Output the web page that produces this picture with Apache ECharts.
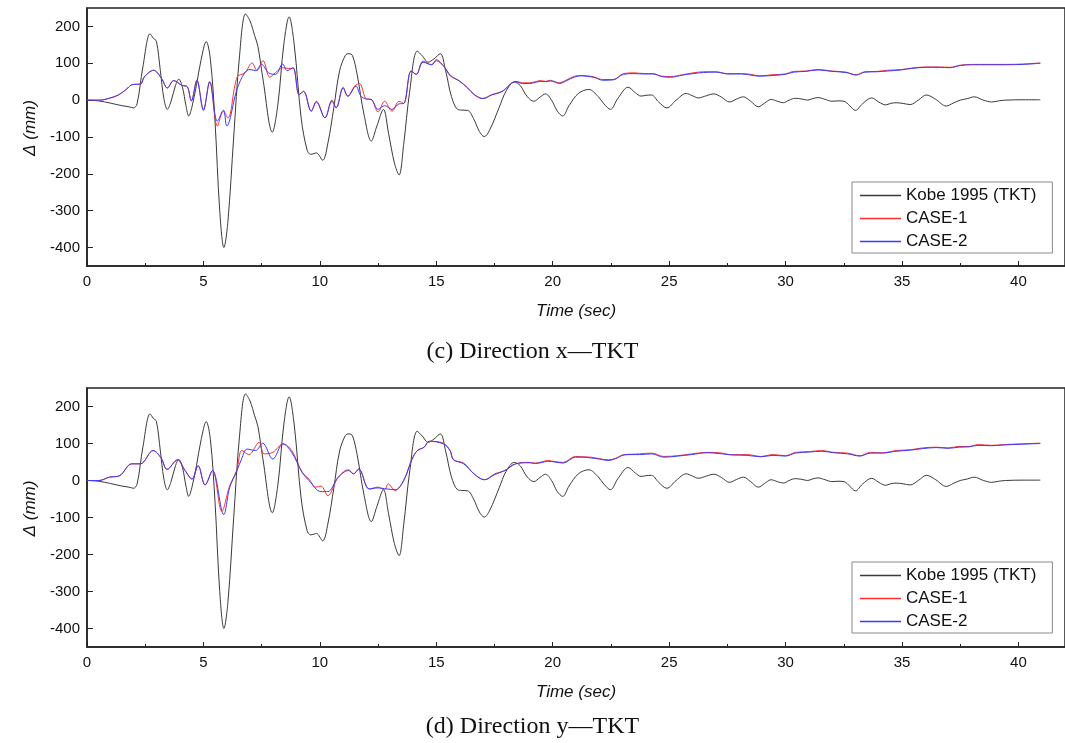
<!DOCTYPE html>
<html>
<head>
<meta charset="utf-8">
<style>
html,body{margin:0;padding:0;background:#fff;}
#c{width:1065px;height:743px;}
</style>
<script src="https://cdn.jsdelivr.net/npm/echarts@6/dist/echarts.min.js"></script>
</head>
<body>
<div id="c"></div>
<script>
// ---- data (time in s, displacement in mm) ----
const xTickLabels = [0, 5, 10, 15, 20, 25, 30, 35, 40];
const xMinorTicks = [2.5, 7.5, 12.5, 17.5, 22.5, 27.5, 32.5, 37.5];
const yTickLabels = [-400, -300, -200, -100, 0, 100, 200];
const seriesNames = ['Kobe 1995 (TKT)', 'CASE-1', 'CASE-2'];
const captions = ['(c) Direction x\u2014TKT', '(d) Direction y\u2014TKT'];

const kobe = [[0,0],[0.5,-2],[1.0,-8],[1.5,-15],[1.8,-18],[2.0,-21],[2.15,-10],[2.4,90],[2.71,180],[2.85,168],[2.98,160],[3.15,80],[3.3,5],[3.45,-25],[3.6,-5],[3.8,40],[3.94,57],[4.1,35],[4.25,-15],[4.37,-43],[4.5,-20],[4.7,40],[4.9,110],[5.12,159],[5.3,110],[5.5,-60],[5.7,-300],[5.88,-400],[6.05,-330],[6.3,-100],[6.55,120],[6.81,234],[7.0,215],[7.2,175],[7.34,146],[7.55,60],[7.96,-87],[8.2,-10],[8.45,150],[8.68,226],[8.9,150],[9.2,-50],[9.45,-135],[9.6,-147],[9.75,-145],[9.85,-143],[10.12,-163],[10.35,-115],[10.6,-20],[10.85,80],[11.1,122],[11.25,126],[11.4,121],[11.6,70],[11.9,-40],[12.21,-111],[12.45,-70],[12.73,-25],[12.95,-90],[13.2,-170],[13.4,-203],[13.6,-120],[13.85,20],[14.18,133],[14.4,120],[14.65,103],[14.9,112],[15.17,126],[15.4,80],[15.65,10],[15.91,-25],[16.1,-27],[16.35,-28],[16.6,-50],[16.85,-85],[17.06,-99],[17.3,-80],[17.7,-20],[18.0,25],[18.35,49],[18.6,40],[18.9,10],[19.19,-3],[19.45,8],[19.69,17],[19.95,0],[20.2,-30],[20.43,-43],[20.7,-15],[21.1,18],[21.55,29],[21.95,10],[22.2,-10],[22.48,-25],[22.8,5],[23.24,35],[23.55,20],[23.79,11],[24.0,13],[24.24,14],[24.55,-5],[24.9,-21],[25.3,0],[25.73,18],[26.0,12],[26.25,6],[26.6,12],[26.92,17],[27.25,8],[27.59,-5],[27.9,3],[28.19,9],[28.5,-3],[28.83,-18],[29.1,-8],[29.38,2],[29.65,-3],[29.9,-7],[30.15,0],[30.42,5],[30.7,3],[30.95,0],[31.15,4],[31.39,7],[31.7,2],[31.99,-3],[32.25,-2],[32.51,-3],[32.75,-15],[33.0,-28],[33.3,-10],[33.7,6],[34.0,-5],[34.3,-13],[34.5,-9],[34.75,-7],[35.05,-9],[35.35,-12],[35.7,0],[36.05,14],[36.45,2],[36.9,-16],[37.2,-8],[37.5,0],[37.8,4],[38.1,9],[38.5,0],[38.85,-5],[39.15,-2],[39.45,0],[40.2,1],[40.94,1]];

const case1X = [[0,0],[0.54,0],[1.0,6],[1.35,14],[1.7,30],[1.94,42],[2.31,44],[2.46,63],[2.86,81],[3.2,59],[3.45,33],[3.72,53],[4.08,40],[4.31,36],[4.48,-2],[4.72,54],[5.0,-25],[5.27,50],[5.6,-70],[5.86,-30],[6.05,-48],[6.45,63],[6.78,74],[7.09,101],[7.3,80],[7.56,107],[7.85,62],[8.1,75],[8.4,88],[8.67,86],[8.85,87],[9.11,15],[9.3,24],[9.63,-30],[9.85,-3],[10.22,-48],[10.52,0],[10.7,-21],[11.0,35],[11.2,12],[11.5,38],[11.7,45],[12.0,3],[12.2,2],[12.5,-32],[12.78,-3],[13.1,-30],[13.4,-3],[13.6,-9],[13.92,79],[14.14,70],[14.43,106],[14.8,96],[15.0,110],[15.32,92],[15.61,65],[15.98,53],[16.35,33],[16.64,15],[17.0,5],[17.38,15],[17.82,24],[18.42,51],[18.7,47],[19.0,47],[19.25,50],[19.46,53],[19.7,51],[19.9,54],[20.1,50],[20.28,47],[20.6,55],[20.95,65],[21.25,67],[21.5,66],[21.77,63],[22.15,56],[22.6,56],[23.04,72],[23.49,74],[23.94,72],[24.3,72],[24.68,65],[25.06,64],[25.58,69],[26.03,74],[26.47,77],[27.0,77],[27.52,72],[28.11,72],[28.5,70],[28.86,66],[29.46,69],[29.98,71],[30.35,78],[30.87,79],[31.39,83],[31.99,79],[32.59,76],[33.03,69],[33.41,77],[33.93,78],[34.38,81],[34.97,83],[35.42,87],[36.02,90],[36.61,90],[37.06,89],[37.51,95],[38.03,97],[38.7,97],[39.45,97],[40.2,98],[40.94,101]];

const case2X = [[0,0],[0.54,0],[1.0,6],[1.35,14],[1.7,30],[1.94,42],[2.31,44],[2.46,63],[2.86,81],[3.2,59],[3.45,33],[3.72,53],[4.08,40],[4.31,36],[4.48,-2],[4.72,54],[5.0,-28],[5.27,50],[5.6,-57],[5.86,-27],[6.0,-70],[6.45,31],[6.78,75],[7.0,83],[7.25,80],[7.49,97],[7.8,74],[8.1,70],[8.4,98],[8.6,80],[8.85,88],[9.11,15],[9.3,24],[9.63,-30],[9.85,-5],[10.22,-48],[10.52,-3],[10.7,-21],[11.0,33],[11.2,10],[11.55,38],[11.75,12],[12.0,3],[12.2,2],[12.5,-25],[12.78,-15],[13.1,-25],[13.4,-10],[13.6,-9],[13.92,79],[14.14,70],[14.43,103],[14.8,96],[15.0,107],[15.32,92],[15.61,67],[15.98,52],[16.35,33],[16.64,14],[17.0,4],[17.38,14],[17.82,23],[18.42,50],[18.7,45],[19.0,45],[19.25,48],[19.46,51],[19.7,50],[19.9,52],[20.1,49],[20.28,45],[20.6,53],[20.95,63],[21.25,66],[21.5,64],[21.77,62],[22.15,54],[22.6,55],[23.04,70],[23.49,72],[23.94,71],[24.3,71],[24.68,64],[25.06,62],[25.58,68],[26.03,72],[26.47,75],[27.0,76],[27.52,71],[28.11,71],[28.5,68],[28.86,65],[29.46,67],[29.98,70],[30.35,76],[30.87,78],[31.39,82],[31.99,78],[32.59,75],[33.03,68],[33.41,76],[33.93,77],[34.38,79],[34.97,82],[35.42,86],[36.02,89],[36.61,89],[37.06,88],[37.51,94],[38.03,96],[38.7,96],[39.45,96],[40.2,97],[40.94,100]];

const case1Y = [[0,0],[0.52,0],[0.96,9],[1.4,13],[1.92,45],[2.29,45],[2.84,81],[3.18,61],[3.44,30],[3.89,56],[4.21,27],[4.51,4],[4.77,40],[5.07,-12],[5.39,27],[5.79,-83],[6.13,-14],[6.43,27],[6.65,81],[6.95,70],[7.39,103],[7.61,72],[7.98,76],[8.42,99],[8.79,81],[9.24,22],[9.53,4],[9.83,-18],[10.05,-15],[10.34,-41],[10.79,9],[11.23,29],[11.45,18],[11.67,31],[12.12,-23],[12.49,-18],[12.78,-25],[12.93,-9],[13.23,-27],[13.6,0],[13.96,58],[14.19,81],[14.48,90],[14.7,106],[15.3,101],[15.59,81],[15.74,56],[16.18,47],[16.62,18],[17.07,2],[17.51,18],[17.95,27],[18.4,45],[18.99,49],[19.25,47],[19.5,50],[19.78,54],[20.1,51],[20.45,49],[20.97,65],[21.3,64],[21.64,63],[22.0,59],[22.38,56],[22.7,60],[23.06,70],[23.4,71],[23.73,72],[24.25,74],[24.77,65],[25.37,67],[25.96,72],[26.63,76],[27.15,75],[27.68,70],[28.35,70],[28.94,65],[29.46,70],[29.99,67],[30.43,76],[31.03,78],[31.55,81],[32.07,76],[32.67,74],[33.19,67],[33.64,76],[34.16,75],[34.75,81],[35.35,83],[35.87,88],[36.47,90],[36.99,88],[37.44,92],[37.88,92],[38.26,97],[38.85,95],[39.37,97],[40.12,99],[40.94,101]];

const case2Y = [[0,0],[0.52,0],[0.96,9],[1.4,13],[1.92,45],[2.29,45],[2.84,81],[3.18,61],[3.44,30],[3.89,56],[4.21,27],[4.51,4],[4.77,40],[5.07,-12],[5.39,27],[5.87,-92],[6.13,-18],[6.43,25],[6.65,60],[6.87,85],[7.24,81],[7.54,101],[7.98,58],[8.42,99],[8.79,76],[9.24,22],[9.53,0],[10.05,-30],[10.34,-30],[10.79,9],[11.23,27],[11.45,18],[11.67,31],[12.12,-23],[12.49,-20],[12.78,-22],[13.23,-25],[13.6,0],[13.96,58],[14.19,81],[14.48,90],[14.7,106],[15.3,99],[15.59,81],[15.74,56],[16.18,45],[16.62,18],[17.07,2],[17.51,16],[17.95,27],[18.4,45],[18.99,48],[19.25,46],[19.5,48],[19.78,52],[20.1,50],[20.45,47],[20.97,63],[21.3,63],[21.64,61],[22.0,58],[22.38,54],[22.7,59],[23.06,69],[23.4,70],[23.73,70],[24.25,72],[24.77,63],[25.37,66],[25.96,70],[26.63,75],[27.15,73],[27.68,69],[28.35,68],[28.94,64],[29.46,68],[29.99,66],[30.43,74],[31.03,77],[31.55,79],[32.07,75],[32.67,72],[33.19,66],[33.64,74],[34.16,74],[34.75,79],[35.35,82],[35.87,86],[36.47,89],[36.99,87],[37.44,90],[37.88,91],[38.26,95],[38.85,94],[39.37,96],[40.12,98],[40.94,100]];

// ---- chart ----
const axisColor = '#222';
const txt = '#111';
const sans = 'Liberation Sans, Arial, sans-serif';
const grids = [
  {left: 87, top: 8, width: 979, height: 258},
  {left: 87, top: 388, width: 979, height: 259}
];
const colors = ['#3a3a3a', '#ff3030', '#3a3aff'];

const chart = echarts.init(document.getElementById('c'), null, {renderer: 'canvas'});

const xAxes = [], yAxes = [], series = [], legends = [], titles = [];
const panelData = [[kobe, case1X, case2X], [kobe, case1Y, case2Y]];

grids.forEach((g, i) => {
  xAxes.push({
    type: 'value', gridIndex: i, min: 0, max: 42, position: 'bottom',
    name: 'Time (sec)', nameLocation: 'middle', nameGap: 37,
    nameTextStyle: {fontFamily: sans, fontStyle: 'italic', fontSize: 17, color: txt},
    axisLine: {show: true, onZero: false, lineStyle: {color: axisColor, width: 1.5}},
    axisTick: {show: true, inside: true, length: 5, customValues: xTickLabels, lineStyle: {color: axisColor, width: 1}},
    axisLabel: {customValues: xTickLabels, margin: 8, fontFamily: sans, fontSize: 15, color: txt},
    splitLine: {show: false}
  });
  xAxes.push({
    type: 'value', gridIndex: i, min: 0, max: 42, position: 'bottom',
    axisLine: {show: false, onZero: false},
    axisTick: {show: true, inside: true, length: 3, customValues: xMinorTicks, lineStyle: {color: axisColor, width: 1}},
    axisLabel: {show: false},
    splitLine: {show: false}
  });
  yAxes.push({
    type: 'value', gridIndex: i, min: -450, max: 250,
    name: '\u0394 (mm)', nameLocation: 'middle', nameGap: 48, nameRotate: 90,
    nameTextStyle: {fontFamily: sans, fontStyle: 'italic', fontSize: 17, color: txt, padding: [0, 0, 0, 18]},
    axisLine: {show: true, onZero: false, lineStyle: {color: axisColor, width: 1.5}},
    axisTick: {show: true, inside: true, length: 6, customValues: yTickLabels, lineStyle: {color: axisColor, width: 1}},
    axisLabel: {customValues: yTickLabels, margin: 7, fontFamily: sans, fontSize: 15, color: txt},
    splitLine: {show: false}
  });
  panelData[i].forEach((d, k) => {
    series.push({
      type: 'line', name: seriesNames[k], xAxisIndex: i * 2, yAxisIndex: i,
      data: d, showSymbol: false, symbol: 'none', smooth: 0.35,
      lineStyle: {color: colors[k], width: 1}, itemStyle: {color: colors[k]},
      z: 2 + k
    });
  });
  legends.push({
    left: 852, top: g.top + 174, orient: 'vertical',
    icon: 'path://M0,0L41,0L41,1.5L0,1.5Z', itemWidth: 41, itemHeight: 14, itemGap: 6,
    padding: [5, 16, 3, 8],
    borderColor: '#8a8a8a', borderWidth: 1,
    data: seriesNames.map((n, k) => ({name: n, itemStyle: {color: colors[k]}})),
    textStyle: {fontFamily: sans, fontSize: 17, color: txt},
    selectedMode: false
  });
  titles.push({
    text: captions[i], left: 'center', top: i === 0 ? 340 : 715, padding: 0,
    textStyle: {fontFamily: 'Liberation Serif, Times New Roman, serif', fontSize: 24, fontWeight: 'normal', color: txt}
  });
});

chart.setOption({
  animation: false,
  backgroundColor: '#fff',
  title: titles,
  grid: grids.map(g => Object.assign({show: true, borderColor: axisColor, borderWidth: 1.5, backgroundColor: 'transparent'}, g)),
  legend: legends,
  xAxis: xAxes,
  yAxis: yAxes,
  series: series
});
</script>
</body>
</html>
